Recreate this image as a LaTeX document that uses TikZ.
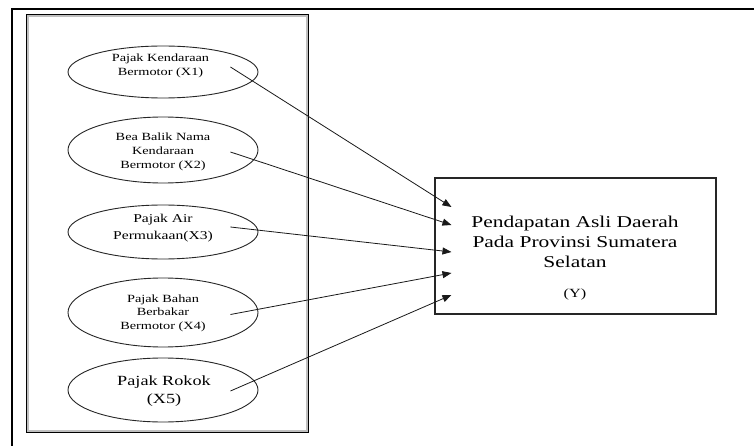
\documentclass[tikz,border=0pt]{standalone}
\usepackage{fontspec}
\setmainfont{Liberation Serif}[FakeStretch=1.3]
\usetikzlibrary{shapes.geometric,arrows.meta,calc}
\begin{document}
\begin{tikzpicture}[x=1pt,y=-1pt,
  oval/.style={draw=black!85, line width=0.9pt, ellipse, minimum width=190pt, inner sep=0pt},
  lbl/.style={align=center, inner sep=0pt, text=black, font=\fontsize{11}{14}\selectfont},
  arr/.style={-{Triangle[length=9pt,width=7pt]}, line width=0.8pt, draw=black!90},
]
\useasboundingbox (0,0) rectangle (754,446);
\fill[white] (0,0) rectangle (754,446);
% outer frame
\draw[line width=2.6pt] (12,446) -- (12,9) -- (754,9);
% inner group box
\node[draw=gray!50, line width=2.8pt, minimum width=279pt, minimum height=415pt, inner sep=0pt] (grp) at (167.5,223.5) {};
\draw[line width=1.6pt] (grp.north west) rectangle (grp.south east);
% ellipses
\node[oval, minimum height=52pt] (e1) at (163,72) {};
\node[oval, minimum height=66pt] (e2) at (163,150) {};
\node[oval, minimum height=54pt] (e3) at (163,232) {};
\node[oval, minimum height=69pt] (e4) at (163,312.5) {};
\node[oval, minimum height=64pt] (e5) at (163,390) {};
% ellipse texts
\node[lbl] (t1) at (160.5,65.5) {Pajak Kendaraan\\Bermotor (X1)};
\node[lbl] (t2) at (163,152) {Bea Balik Nama\\Kendaraan\\Bermotor (X2)};
\node[lbl, font=\fontsize{12}{17}\selectfont] (t3) at (163,228.5) {Pajak Air\\Permukaan(X3)};
\node[lbl, font=\fontsize{11}{13.5}\selectfont] (t4) at (163,313) {Pajak Bahan\\Berbakar\\Bermotor (X4)};
\node[lbl, font=\fontsize{14}{18}\selectfont] (t5) at (164,391) {Pajak Rokok\\(X5)};
% target box
\node[draw=black!85, line width=1.1pt, minimum width=281pt, minimum height=136pt, inner sep=0pt] (Y) at (575.5,246) {};
\node[lbl, font=\fontsize{16.5}{20}\selectfont] (yt) at (575,242) {Pendapatan Asli Daerah\\Pada Provinsi Sumatera\\Selatan};
\node[lbl, font=\fontsize{12.5}{14}\selectfont] (yl) at (575,294) {(Y)};
% arrows
\draw[arr] ($(e1.east)+(-28,-5)$) -- ($(Y.west)+(17,-39)$);
\draw[arr] ($(e2.east)+(-28,2)$) -- ($(Y.west)+(17,-21)$);
\draw[arr] ($(e3.east)+(-28,-5)$) -- ($(Y.west)+(17,6)$);
\draw[arr] ($(e4.east)+(-28,2)$) -- ($(Y.west)+(17,27)$);
\draw[arr] ($(e5.east)+(-28,1)$) -- ($(Y.west)+(17,49)$);
\end{tikzpicture}
\end{document}
